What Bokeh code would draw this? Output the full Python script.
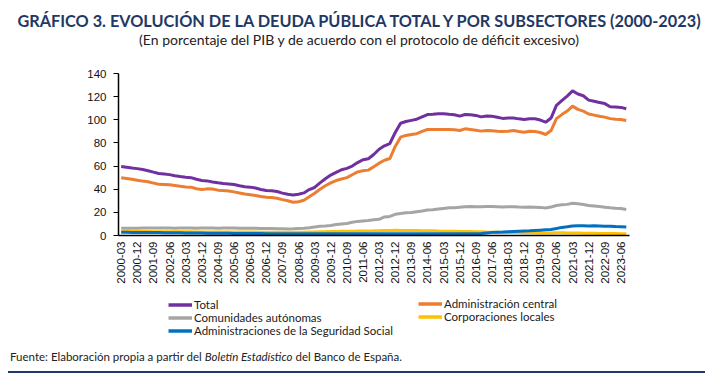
import math
from bokeh.plotting import figure
from bokeh.models import FixedTicker, Legend, LegendItem, Range1d, Div
from bokeh.layouts import column
from bokeh.embed import file_html
from bokeh.resources import INLINE

# ---------------- data ----------------
periods = [f"{y}-{m}" for y in range(2000, 2024) for m in ("03", "06", "09", "12")][:95]

total = [
    59.6, 59.0, 58.3, 57.8,
    57.0, 56.0, 54.8, 53.6,
    53.2, 52.6, 51.6, 50.9,
    50.3, 50.0, 48.6, 47.6,
    47.2, 46.3, 45.6, 45.0,
    44.6, 44.0, 43.0, 42.2,
    41.8, 41.0, 39.8, 38.9,
    38.6, 38.0, 36.6, 35.6,
    35.0, 35.6, 36.8, 39.7,
    41.5, 45.5, 49.0, 52.2,
    54.5, 56.8, 58.0, 60.0,
    63.0, 65.5, 66.3, 70.0,
    74.5, 77.5, 79.5, 89.0,
    97.0, 98.5, 99.5, 100.5,
    102.5, 104.5, 104.8, 105.2,
    105.3, 104.8, 104.4, 103.2,
    104.6, 104.4, 103.8, 102.5,
    103.3, 103.0, 102.2, 101.2,
    101.5, 101.6, 100.8, 100.2,
    100.8, 100.9, 99.8, 97.9,
    101.5, 112.5, 116.5, 120.5,
    125.0, 122.3, 120.8, 117.0,
    116.0, 115.0, 114.0, 111.3,
    111.0, 110.7, 109.5,
]

central = [
    49.9, 49.3, 48.6, 47.8,
    47.0, 46.5, 45.3, 44.2,
    44.0, 43.8, 43.2, 42.5,
    42.0, 41.8, 40.4, 39.8,
    40.3, 40.2, 39.2, 38.8,
    38.5, 37.7, 36.8, 35.8,
    35.3, 34.6, 33.7, 33.0,
    32.8, 32.2, 31.0, 30.0,
    28.8, 29.2, 30.5, 33.5,
    36.5, 40.0, 43.0, 45.5,
    47.5, 48.8, 50.0, 52.5,
    55.0, 56.0, 56.5, 59.5,
    62.5, 65.0, 66.5, 77.0,
    85.0, 86.5, 87.3, 88.0,
    90.0, 91.6, 91.6, 91.6,
    91.7, 91.5, 91.3, 90.7,
    92.2, 91.6, 91.0, 90.2,
    90.7, 90.5, 90.0, 89.9,
    90.0, 90.7, 89.8, 89.3,
    90.0, 89.9, 89.0, 87.3,
    90.7, 101.0, 104.5, 107.5,
    111.8, 109.0, 107.5, 105.0,
    104.0, 103.0, 102.3, 101.0,
    100.5, 100.2, 99.4,
]

ccaa = [
    6.2, 6.3, 6.3, 6.3,
    6.4, 6.4, 6.4, 6.4,
    6.4, 6.4, 6.3, 6.4,
    6.4, 6.4, 6.3, 6.4,
    6.4, 6.4, 6.3, 6.4,
    6.4, 6.4, 6.3, 6.3,
    6.2, 6.2, 6.0, 6.0,
    6.0, 5.9, 5.8, 5.7,
    5.8, 6.0, 6.2, 6.7,
    7.4, 8.0, 8.3, 8.7,
    9.5, 10.0, 10.4, 11.4,
    12.2, 12.6, 13.0, 13.6,
    14.0, 16.0, 16.5, 18.3,
    19.0, 19.6, 19.8, 20.5,
    21.2, 22.0, 22.2, 22.9,
    23.4, 23.9, 24.0, 24.4,
    24.8, 25.0, 24.8, 24.8,
    25.1, 25.0, 24.9, 24.7,
    24.9, 24.9, 24.6, 24.4,
    24.6, 24.5, 24.3, 23.7,
    24.6, 25.9, 26.5, 26.9,
    27.9, 27.4, 26.8, 26.0,
    25.5, 25.0, 24.5, 24.0,
    23.6, 23.3, 22.4,
]

locales = [
    3.5, 3.5, 3.4, 3.4,
    3.4, 3.4, 3.3, 3.3,
    3.3, 3.3, 3.2, 3.2,
    3.2, 3.2, 3.1, 3.1,
    3.1, 3.1, 3.0, 3.1,
    3.1, 3.1, 3.0, 3.0,
    3.0, 3.0, 2.9, 2.9,
    2.9, 2.9, 2.8, 2.8,
    2.8, 2.9, 2.9, 3.0,
    3.1, 3.2, 3.3, 3.4,
    3.5, 3.6, 3.6, 3.7,
    3.8, 3.9, 3.9, 4.0,
    4.2, 4.4, 4.4, 4.5,
    4.4, 4.4, 4.3, 4.3,
    4.1, 4.1, 4.0, 3.8,
    3.7, 3.7, 3.6, 3.5,
    3.4, 3.4, 3.3, 3.2,
    3.0, 2.9, 2.8, 2.7,
    2.6, 2.6, 2.5, 2.3,
    2.3, 2.3, 2.2, 2.1,
    2.2, 2.4, 2.3, 2.2,
    2.2, 2.1, 2.0, 1.9,
    1.9, 1.8, 1.8, 1.7,
    1.7, 1.6, 1.6,
]

segsocial = [
    2.8, 2.8, 2.7, 2.7,
    2.6, 2.6, 2.5, 2.5,
    2.4, 2.4, 2.3, 2.3,
    2.2, 2.2, 2.1, 2.1,
    2.0, 2.0, 1.9, 1.9,
    1.9, 1.8, 1.8, 1.8,
    1.7, 1.7, 1.7, 1.6,
    1.6, 1.6, 1.6, 1.6,
    1.6, 1.6, 1.6, 1.6,
    1.6, 1.6, 1.6, 1.6,
    1.6, 1.6, 1.6, 1.6,
    1.6, 1.6, 1.6, 1.6,
    1.6, 1.6, 1.6, 1.6,
    1.6, 1.6, 1.6, 1.6,
    1.6, 1.6, 1.6, 1.6,
    1.6, 1.6, 1.6, 1.6,
    1.6, 1.6, 1.6, 1.7,
    2.2, 2.7, 2.9, 3.0,
    3.2, 3.4, 3.6, 3.8,
    4.0, 4.3, 4.6, 4.9,
    5.2, 6.0, 7.0, 7.6,
    8.3, 8.5, 8.5, 8.3,
    8.4, 8.3, 8.1, 8.0,
    7.7, 7.5, 7.3,
]

series_names = ["Total", "Administración central", "Comunidades autónomas",
                "Corporaciones locales", "Administraciones de la Seguridad Social"]
series_colors = ["#7030A0", "#ED7D31", "#A5A5A5", "#FFC000", "#0070C0"]
y_ticks = [0, 20, 40, 60, 80, 100, 120, 140]

title_text = "GRÁFICO 3. EVOLUCIÓN DE LA DEUDA PÚBLICA TOTAL Y POR SUBSECTORES (2000-2023)"
subtitle_text = "(En porcentaje del PIB y de acuerdo con el protocolo de déficit excesivo)"

NAVY = "#1F3864"
W = 718

# ---------------- header ----------------
header = Div(
    text=(f'<div style="width:{W}px;padding-top:5px;height:32px;line-height:32px;text-align:center;'
          f'font-family:Lato;font-weight:bold;font-size:16.3px;color:{NAVY};white-space:nowrap">'
          f'{title_text}</div>'
          f'<div style="width:{W}px;height:16px;line-height:16px;text-align:center;font-family:Lato;'
          f'font-size:14px;color:#222;white-space:nowrap">{subtitle_text}</div>'),
    width=W, height=55, margin=(0, 0, 0, 0))

# ---------------- main chart ----------------
p = figure(frame_width=511, frame_height=162, output_backend="svg", toolbar_location=None,
           x_range=Range1d(-0.5, 94.6), y_range=Range1d(0, 140),
           min_border_left=118, min_border_right=89, min_border_top=18,
           min_border_bottom=60, margin=(0, 0, 0, 0))
p.outline_line_color = None
p.xgrid.grid_line_color = None
p.ygrid.grid_line_color = None

xs = list(range(len(periods)))
for vals, col in zip([total, central, ccaa, locales, segsocial], series_colors):
    p.line(xs, vals, line_color=col, line_width=3)

p.yaxis.ticker = FixedTicker(ticks=y_ticks)
p.yaxis.major_label_text_font = "Liberation Sans"
p.yaxis.major_label_text_font_size = "11.5px"
p.yaxis.major_label_text_color = "#111111"
p.yaxis.axis_line_color = "black"
p.yaxis.axis_line_width = 1.5
p.yaxis.major_tick_line_color = "black"
p.yaxis.major_tick_out = 5
p.yaxis.major_tick_in = 0
p.yaxis.minor_tick_line_color = None
p.yaxis.major_label_standoff = 7

tick_idx = list(range(0, len(periods), 3))
p.xaxis.ticker = FixedTicker(ticks=tick_idx)
p.xaxis.major_label_overrides = {i: periods[i] for i in tick_idx}
p.xaxis.major_label_orientation = math.pi / 2
p.xaxis.major_label_text_font = "Liberation Sans"
p.xaxis.major_label_text_font_size = "11.5px"
p.xaxis.major_label_text_color = "#111111"
p.xaxis.axis_line_color = "black"
p.xaxis.axis_line_width = 1.5
p.xaxis.major_tick_out = 0
p.xaxis.major_tick_in = 0
p.xaxis.minor_tick_line_color = None
p.xaxis.major_label_standoff = 6

# ---------------- legend strip (frame aligned with the chart frame) ----------------
LH = 48
lf = figure(width=W, height=LH, output_backend="svg", toolbar_location=None,
            x_axis_type=None, y_axis_type=None, x_range=Range1d(0, 1), y_range=Range1d(0, 1),
            min_border=0, margin=(0, 0, 0, 0))
lf.outline_line_color = None
lf.background_fill_color = None
lf.border_fill_color = None
nan = float("nan")
leg_r = [lf.line([nan], [nan], line_color=c, line_width=3.5) for c in series_colors]

def mk_legend(idx, loc):
    lg = Legend(items=[LegendItem(label=series_names[i], renderers=[leg_r[i]]) for i in idx],
                location=loc, orientation="vertical")
    lg.label_text_font = "Lato"
    lg.label_text_font_size = "11.5px"
    lg.label_text_color = "#1a1a1a"
    lg.glyph_width = 24
    lg.glyph_height = 13
    lg.label_height = 13
    lg.label_standoff = 2
    lg.padding = 0
    lg.margin = 0
    lg.spacing = 0
    lg.border_line_color = None
    lg.background_fill_alpha = 0
    return lg

lf.add_layout(mk_legend([0, 2, 4], (50, 6)))
lf.add_layout(mk_legend([1, 3], (300, 20)))

# ---------------- footer ----------------
footer = Div(
    text=(f'<div style="box-sizing:content-box;margin-left:8px;width:695px;padding-left:2px;'
          f'padding-top:5px;padding-bottom:5px;height:18px;line-height:18px;'
          f'border-bottom:2px solid {NAVY};'
          'font-family:Lato;font-size:11.5px;color:#222;white-space:nowrap">'
          'Fuente: Elaboración propia a partir del <i>Boletín Estadístico</i> del Banco de España.</div>'),
    width=W, height=35, margin=(0, 0, 0, 0))

layout = column(header, p, lf, footer, spacing=0)
open("out.html", "w").write(file_html(layout, INLINE))
